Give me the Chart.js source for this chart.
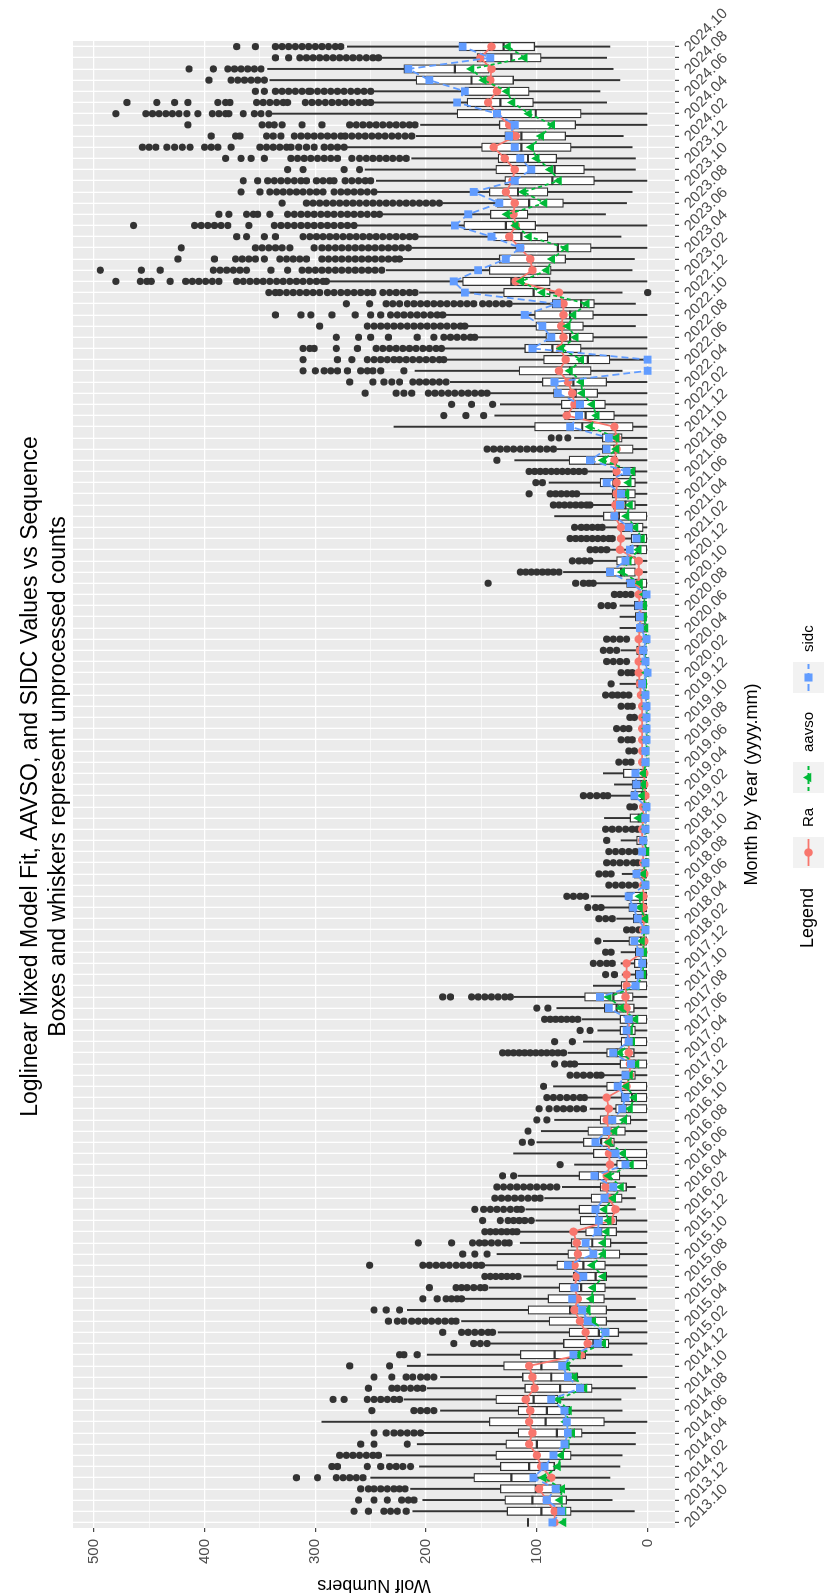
<!DOCTYPE html>
<html>
<head>
<meta charset="utf-8">
<script src="https://cdn.jsdelivr.net/npm/chart.js@4.4.1/dist/chart.umd.min.js"></script>
<style>
html, body { margin: 0; padding: 0; background: #ffffff; overflow: hidden; }
#marco { position: absolute; left: 0; top: 0; width: 1596px; height: 824px;
  transform-origin: 0 0; transform: translate(0px, 1596px) rotate(-90deg); }
</style>
</head>
<body>
<div id="marco"><canvas id="grafico" width="1596" height="824"></canvas></div>
<script>
// Meses (categorías del eje)
const meses = [
  '2013.10','2013.11','2013.12',
  '2014.01','2014.02','2014.03','2014.04','2014.05','2014.06','2014.07','2014.08','2014.09','2014.10','2014.11','2014.12',
  '2015.01','2015.02','2015.03','2015.04','2015.05','2015.06','2015.07','2015.08','2015.09','2015.10','2015.11','2015.12',
  '2016.01','2016.02','2016.03','2016.04','2016.05','2016.06','2016.07','2016.08','2016.09','2016.10','2016.11','2016.12',
  '2017.01','2017.02','2017.03','2017.04','2017.05','2017.06','2017.07','2017.08','2017.09','2017.10','2017.11','2017.12',
  '2018.01','2018.02','2018.03','2018.04','2018.05','2018.06','2018.07','2018.08','2018.09','2018.10','2018.11','2018.12',
  '2019.01','2019.02','2019.03','2019.04','2019.05','2019.06','2019.07','2019.08','2019.09','2019.10','2019.11','2019.12',
  '2020.01','2020.02','2020.03','2020.04','2020.05','2020.06','2020.07','2020.08','2020.09','2020.10','2020.11','2020.12',
  '2021.01','2021.02','2021.03','2021.04','2021.05','2021.06','2021.07','2021.08','2021.09','2021.10','2021.11','2021.12',
  '2022.01','2022.02','2022.03','2022.04','2022.05','2022.06','2022.07','2022.08','2022.09','2022.10','2022.11','2022.12',
  '2023.01','2023.02','2023.03','2023.04','2023.05','2023.06','2023.07','2023.08','2023.09','2023.10','2023.11','2023.12',
  '2024.01','2024.02','2024.03','2024.04','2024.05','2024.06','2024.07','2024.08','2024.09','2024.10'
];

// Etiquetas visibles del eje de meses (cada dos meses)
const etiquetasEje = [
  '2013.10','2013.12',
  '2014.02','2014.04','2014.06','2014.08','2014.10','2014.12',
  '2015.02','2015.04','2015.06','2015.08','2015.10','2015.12',
  '2016.02','2016.04','2016.06','2016.08','2016.10','2016.12',
  '2017.02','2017.04','2017.06','2017.08','2017.10','2017.12',
  '2018.02','2018.04','2018.06','2018.08','2018.10','2018.12',
  '2019.02','2019.04','2019.06','2019.08','2019.10','2019.12',
  '2020.02','2020.04','2020.06','2020.08','2020.10','2020.12',
  '2021.02','2021.04','2021.06','2021.08','2021.10','2021.12',
  '2022.02','2022.04','2022.06','2022.08','2022.10','2022.12',
  '2023.02','2023.04','2023.06','2023.08','2023.10','2023.12',
  '2024.02','2024.04','2024.06','2024.08','2024.10'
];

// Líneas de la escala Wolf (mayores con etiqueta, menores sin ella)
const marcasWolf = [0, 50, 100, 150, 200, 250, 300, 350, 400, 450, 500];
const ticksWolf = [0, 100, 200, 300, 400, 500];

// Cajas y bigotes (conteos sin procesar)
const bigoteInf = [
  108, 12, 32, 21, 34, 25, 23, 11, 11, 0,
  23, 24, 11, 0, 23, 14, 0, 0, 0, 0,
  11, 0, 0, 0, 0, 0, 0, 0, 11, 11,
  11, 0, 0, 0, 0, 0, 0, 0, 0, 0,
  0, 0, 0, 0, 0, 0, 0, 0, 0, 0,
  0, 0, 0, 0, 0, 0, 0, 0, 0, 0,
  0, 0, 0, 0, 0, 0, 0, 0, 0, 0,
  0, 0, 0, 0, 0, 0, 0, 0, 0, 0,
  0, 0, 0, 0, 0, 0, 0, 0, 0, 0,
  0, 0, 0, 0, 0, 0, 0, 0, 0, 0,
  0, 0, 0, 23, 0, 0, 0, 11, 0, 11,
  23, 0, 14, 12, 0, 24, 0, 38, 19, 14,
  0, 11, 11, 14, 22, 0, 0, 37, 43, 25,
  31, 37, 34
];
const cuartil1 = [
  108, 69, 73, 78, 101, 84, 69, 71, 59, 39,
  70, 81, 50, 63, 72, 56, 35, 26, 37, 37,
  39, 38, 37, 38, 25, 33, 28, 28, 30, 23,
  19, 25, 0, 0, 30, 20, 15, 0, 0, 0,
  11, 0, 12, 0, 11, 0, 12, 13, 0, 0,
  0, 0, 0, 0, 0, 0, 0, 0, 0, 0,
  0, 0, 0, 0, 0, 0, 0, 0, 0, 0,
  0, 0, 0, 0, 0, 0, 0, 0, 0, 0,
  0, 0, 0, 0, 0, 11, 11, 0, 0, 4,
  0, 11, 11, 11, 11, 28, 13, 23, 13, 30,
  38, 45, 37, 51, 34, 60, 49, 58, 49, 48,
  88, 88, 87, 74, 51, 90, 101, 108, 76, 90,
  48, 57, 82, 69, 74, 65, 60, 103, 107, 121,
  143, 96, 102
];
const mediana = [
  108, 96, 104, 101, 123, 107, 101, 100, 82, 92,
  91, 103, 79, 87, 96, 84, 49, 44, 60, 70,
  62, 60, 47, 58, 47, 50, 42, 42, 45, 36,
  30, 45, 18, 28, 42, 36, 32, 20, 14, 28,
  17, 12, 28, 13, 17, 14, 28, 31, 10, 4,
  4, 4, 6, 0, 5, 6, 6, 0, 4, 0,
  0, 3, 0, 8, 0, 5, 6, 9, 0, 0,
  0, 0, 0, 0, 0, 3, 0, 0, 3, 0,
  4, 4, 5, 2, 10, 24, 21, 9, 7, 14,
  26, 20, 21, 31, 21, 49, 30, 29, 59, 56,
  61, 65, 67, 70, 54, 86, 70, 78, 70, 60,
  103, 123, 105, 105, 81, 114, 128, 126, 107, 117,
  86, 84, 108, 114, 114, 121, 101, 133, 137, 159,
  174, 123, 130
];
const cuartil3 = [
  108, 127, 129, 133, 157, 133, 137, 128, 117, 143,
  117, 137, 111, 113, 130, 115, 76, 71, 89, 108,
  90, 80, 67, 82, 72, 69, 56, 61, 62, 51,
  43, 62, 28, 49, 58, 54, 43, 29, 24, 37,
  23, 25, 37, 24, 25, 25, 39, 57, 24, 11,
  12, 11, 17, 2, 13, 17, 19, 2, 12, 2,
  2, 10, 2, 16, 1, 15, 14, 22, 1, 1,
  1, 1, 1, 1, 2, 10, 1, 2, 10, 2,
  9, 11, 12, 5, 19, 37, 28, 16, 15, 25,
  40, 31, 32, 43, 31, 71, 41, 41, 102, 75,
  78, 85, 95, 116, 94, 111, 92, 101, 102, 86,
  130, 167, 143, 134, 119, 139, 166, 142, 136, 143,
  129, 137, 135, 150, 129, 134, 172, 163, 165, 209,
  220, 154, 170
];
const bigoteSup = [
  108, 212, 203, 214, 250, 206, 236, 208, 202, 294,
  187, 220, 199, 187, 217, 199, 142, 135, 168, 217,
  166, 143, 112, 147, 136, 115, 115, 101, 110, 93,
  77, 117, 66, 121, 100, 96, 84, 52, 54, 85,
  40, 63, 72, 58, 45, 59, 82, 121, 49, 23,
  24, 24, 40, 5, 28, 40, 51, 5, 23, 5,
  5, 24, 5, 39, 2, 33, 30, 40, 2, 2,
  2, 2, 2, 2, 4, 25, 2, 5, 24, 5,
  25, 25, 25, 10, 47, 76, 49, 35, 24, 38,
  84, 50, 63, 89, 54, 120, 82, 66, 229, 138,
  133, 143, 178, 210, 182, 184, 154, 163, 182, 122,
  206, 288, 236, 222, 213, 208, 262, 240, 185, 245,
  245, 255, 213, 271, 209, 205, 339, 248, 247, 341,
  343, 241, 271
];

// Valores atípicos por mes
const atipicos = [
  [], [265, 252, 238, 232, 226, 218], [261, 247, 235, 222, 216, 211],
  [259, 252, 247, 241, 235, 229, 224, 219], [317, 298, 281, 275, 269, 263, 257], [285, 280, 253, 241, 233, 227, 221, 214],
  [278, 272, 266, 260, 254, 248, 243], [259, 247, 217], [247, 236, 229, 223, 217, 211, 205], [],
  [249, 211, 205, 199, 193], [284, 274, 253, 247, 241, 235, 229, 224], [252, 231, 226, 220, 214, 208, 203],
  [247, 231, 218, 212, 205, 199, 193], [269, 233],
  [224, 220, 208], [175, 157, 151, 145], [185, 168, 162, 156, 150, 144, 140],
  [234, 226, 220, 213, 207, 201, 195, 189, 183, 177, 173], [247, 236, 224], [203, 190, 182, 177, 172, 168],
  [197, 173, 168, 163, 157, 151, 147], [147, 142, 137, 132, 127, 122, 117], [251, 203, 197, 191, 185, 179, 173, 167, 161, 155, 150],
  [167, 156, 145], [207, 177, 158, 152, 147, 141, 135, 129, 125], [147, 142, 137, 132, 127, 122, 118],
  [149, 133, 126, 121, 116, 111, 105], [156, 148, 142, 136, 130, 124, 118, 114], [138, 132, 126, 120, 114, 108, 102, 97],
  [136, 130, 124, 118, 112, 106, 100, 94, 88, 82], [131, 121], [79], [],
  [113, 105], [108], [100, 91], [98, 89, 82, 76, 70, 64, 58], [91, 85, 79, 73, 67, 61, 57],
  [94], [70, 64, 58, 52, 46, 42], [84, 75, 70, 66], [131, 126, 121, 116, 111, 106, 101, 96, 91, 86, 81, 76],
  [84, 68], [61, 52], [93, 88, 83, 78, 73, 68, 63], [100, 90], [185, 178, 159, 153, 147, 141, 135, 129, 124],
  [], [38, 30], [49, 43, 37, 32],
  [38, 33], [45], [19, 14, 8], [44, 38, 32], [54, 47, 42], [73, 67, 61, 56],
  [35, 29, 23, 17, 11], [44, 38, 33], [37, 31, 25, 19, 13, 9], [35, 29, 23, 17, 11], [37], [38, 32, 26, 20, 14, 9],
  [], [16, 12], [58, 52, 46, 40, 36], [], [], [26, 20, 15],
  [17, 12], [24, 18, 14], [28, 22, 17], [16, 12], [24, 18, 14], [38, 32, 27, 22, 17],
  [33], [24, 18, 14], [37, 31, 25, 19], [40, 34, 28], [37, 31, 25, 19], [],
  [], [42, 36, 31], [30, 25, 20, 15], [144, 65, 58, 53, 49], [115, 110, 105, 100, 95, 90, 85, 80], [68, 62, 57, 52],
  [52, 47, 42, 37], [70, 65, 60, 55, 50, 45, 40, 35, 32], [66, 60, 55, 50, 45, 41], [],
  [85, 80, 75, 70, 65, 60, 55, 52], [107, 88, 83, 78, 73, 68, 64], [101, 95],
  [107, 102, 97, 92, 87, 82, 77, 72, 67, 62, 57], [136], [145, 139, 133, 127, 121, 115, 109, 103, 97, 91, 85],
  [87, 80, 72], [],
  [184, 164, 148], [177, 159, 140], [255, 227, 220, 213, 198, 192, 186, 180, 174, 168, 162, 156, 150, 145],
  [269, 248, 238, 231, 224, 212, 206, 200, 194, 188, 182],
  [311, 300, 292, 286, 280, 271, 259, 253, 248, 241, 220],
  [311, 280, 267, 253, 247, 241, 235, 229, 224, 218, 212, 206, 200, 194, 188, 184],
  [311, 305, 301, 281, 262, 245, 239, 233, 227, 221, 215, 209, 203, 197, 191, 186],
  [281, 261, 250, 234, 208, 193, 184, 178, 172, 166, 160, 156],
  [296, 253, 247, 241, 235, 229, 223, 217, 211, 205, 199, 193, 187, 181, 175, 169, 165],
  [336, 313, 304, 285, 264, 250, 241, 232, 226, 220, 214, 208, 202, 196, 190, 185],
  [272, 251, 236, 230, 224, 217, 211, 205, 199, 193, 187, 181, 175, 169, 163, 157, 149, 143, 137, 131, 125],
  [342, 336, 332, 326, 320, 314, 308, 302, 296, 289, 283, 277, 271, 265, 259, 253, 248, 239, 233, 227, 221, 215, 210, 0],
  [480, 458, 452, 448, 431, 417, 411, 405, 399, 393, 387, 371, 365, 359, 353, 347, 341, 335, 329, 323, 317, 311, 305, 299, 293, 290],
  [494, 457, 440, 392, 386, 380, 374, 368, 362, 340, 325, 312, 306, 300, 294, 288, 282, 276, 270, 264, 258, 252, 246, 240],
  [424, 391, 372, 366, 360, 354, 346, 332, 326, 320, 314, 308, 294, 288, 282, 276, 270, 264, 258, 252, 246, 240, 234, 228, 224],
  [421, 354, 348, 342, 336, 330, 323, 301, 294, 288, 282, 276, 270, 264, 258, 252, 246, 240, 234, 228, 222, 216],
  [371, 362, 346, 336, 311, 305, 299, 293, 287, 281, 275, 269, 263, 257, 251, 245, 239, 233, 227, 221, 215, 210],
  [464, 409, 403, 397, 391, 385, 379, 360, 337, 331, 325, 319, 313, 307, 301, 295, 289, 283, 277, 271, 265],
  [387, 378, 362, 356, 352, 341, 325, 319, 313, 307, 301, 295, 289, 283, 277, 271, 265, 259, 253, 247, 242],
  [330, 308, 302, 296, 290, 284, 278, 272, 266, 260, 254, 248, 242, 236, 230, 224, 218, 212, 206, 200, 194, 188],
  [367, 350, 341, 335, 329, 323, 317, 311, 305, 299, 293, 283, 277, 271, 265, 259, 253, 247],
  [365, 352, 343, 337, 331, 325, 319, 313, 308, 299, 293, 287, 283, 273, 267, 261, 255, 250],
  [325, 311, 274, 260],
  [381, 367, 358, 346, 322, 316, 310, 304, 298, 292, 286, 280, 267, 260, 254, 248, 242, 236, 230, 224, 218],
  [456, 450, 444, 434, 427, 420, 413, 400, 394, 388, 376, 350, 344, 338, 332, 326, 322, 315, 308, 301, 292, 286, 280, 274],
  [394, 372, 368, 344, 338, 331, 319, 313, 307, 301, 295, 289, 283, 277, 273, 267, 261, 255, 249, 243, 237, 231, 225, 219, 213],
  [415, 348, 342, 337, 330, 312, 294, 269, 263, 257, 251, 245, 239, 233, 227, 221, 215, 210],
  [480, 453, 447, 441, 435, 429, 423, 416, 406, 393, 387, 381, 378, 365, 355, 349, 342],
  [470, 443, 427, 415, 388, 381, 377, 353, 347, 341, 335, 329, 325, 309, 303, 297, 291, 285, 279, 273, 267, 261, 255, 250],
  [354, 346, 336, 330, 324, 318, 312, 306, 304, 298, 292, 286, 280, 274, 268, 262, 256, 250],
  [396, 376, 370, 364, 358, 352, 346],
  [414, 392, 379, 373, 367, 361, 355, 349],
  [336, 324, 314, 308, 302, 296, 290, 284, 278, 272, 266, 260, 254, 248, 243],
  [371, 354, 336, 330, 324, 318, 312, 306, 300, 294, 288, 282, 277]
];

// Series: ajuste del modelo (Ra), AAVSO y SIDC
const ra = [
  84, 84, 91, 98, 87, 96, 100, 107, 104, 107,
  106, 110, 102, 104, 107, 60, 54, 56, 61, 66,
  63, 66, 64, 66, 63, 64, 67, 33, 29, 35,
  38, 37, 34, 35, 35, 35, 37, 35, 37, 19,
  16, 16, 17, 17, 17, 17, 19, 20, 19, 19,
  19, 4, 3, 4, 3, 4, 4, 4, 3, 4,
  4, 5, 5, 4, 4, 2, 3, 3, 5, 5,
  5, 5, 5, 5, 6, 7, 8, 8, 7, 8,
  7, 6, 7, 8, 8, 8, 8, 25, 24, 24,
  30, 29, 28, 28, 28, 30, 28, 28, 30, 73,
  66, 68, 72, 80, 74, 79, 76, 78, 76, 76,
  80, 119, 104, 106, 115, 125, 119, 121, 120, 128,
  122, 120, 129, 139, 119, 125, 136, 144, 136, 142,
  141, 151, 141
];
const aavso = [
  76, 76, 79, 77, 94, 81, 78, 73, 68, 74,
  71, 81, 57, 66, 73, 63, 40, 38, 49, 54,
  51, 49, 40, 50, 40, 40, 37, 35, 39, 31,
  24, 35, 15, 22, 35, 30, 21, 16, 12, 19,
  16, 10, 25, 14, 16, 11, 24, 35, 10, 4,
  4, 3, 5, 2, 2, 7, 7, 2, 4, 2,
  1, 3, 2, 8, 1, 5, 4, 4, 1, 1,
  1, 1, 1, 1, 2, 3, 1, 2, 3, 1,
  2, 3, 3, 3, 7, 23, 17, 8, 5, 11,
  19, 16, 19, 17, 14, 40, 28, 28, 52, 46,
  50, 59, 60, 70, 60, 78, 65, 72, 67, 55,
  95, 114, 91, 86, 74, 107, 119, 127, 93, 112,
  80, 88, 100, 105, 96, 86, 107, 122, 127, 148,
  159, 111, 126
];
const sidc = [
  86, 78, 91, 83, 103, 93, 85, 75, 72, 73,
  75, 87, 61, 72, 77, 67, 45, 38, 54, 59,
  68, 66, 58, 72, 49, 56, 45, 44, 47, 39,
  31, 48, 20, 29, 47, 37, 32, 23, 20, 27,
  20, 15, 31, 17, 19, 17, 35, 43, 11, 7,
  5, 7, 12, 2, 9, 13, 17, 2, 10, 2,
  5, 4, 2, 2, 1, 12, 10, 11, 2, 2,
  1, 1, 1, 1, 2, 5, 0, 2, 4, 1,
  7, 7, 8, 1, 15, 34, 20, 16, 10, 17,
  30, 25, 24, 37, 19, 52, 37, 35, 70, 62,
  61, 81, 84, 0, 0, 104, 87, 95, 111, 82,
  165, 175, 153, 128, 115, 141, 174, 162, 134, 157,
  120, 105, 115, 120, 125, 120, 136, 172, 165, 197,
  216, 142, 167
];

const titulo = ['Loglinear Mixed Model Fit, AAVSO, and SIDC Values vs Sequence',
                'Boxes and whiskers represent unprocessed counts'];

const FUENTE = '"Liberation Sans", Arial, sans-serif';
Chart.defaults.font.family = FUENTE;
Chart.defaults.color = '#4D4D4D';

const cajas = cuartil1.map((q, i) => [q, cuartil3[i]]);
const bigotes = bigoteInf.map((b, i) => [b, bigoteSup[i]]);
const puntosAtipicos = atipicos.flatMap((lista, i) => lista.map(v => ({x: meses[i], y: v})));

// fondo gris del panel
const fondoPanel = {
  id: 'fondoPanel',
  beforeDraw(chart) {
    const {ctx, chartArea: a} = chart;
    ctx.save();
    ctx.fillStyle = '#EBEBEB';
    ctx.fillRect(a.left, a.top, a.right - a.left, a.bottom - a.top);
    ctx.restore();
  }
};

function marca(ctx, forma, x, y, r, color) {
  ctx.fillStyle = color;
  ctx.beginPath();
  if (forma === 'circle') {
    ctx.arc(x, y, r, 0, Math.PI * 2);
  } else if (forma === 'triangle') {
    ctx.moveTo(x, y - r);
    ctx.lineTo(x + r * 0.866, y + r * 0.5);
    ctx.lineTo(x - r * 0.866, y + r * 0.5);
    ctx.closePath();
  } else {
    ctx.rect(x - r * 0.72, y - r * 0.72, r * 1.44, r * 1.44);
  }
  ctx.fill();
}

// título, etiquetas del eje de meses y leyenda
const textos = {
  id: 'textos',
  afterDraw(chart) {
    const {ctx, chartArea: a} = chart;
    const ejeX = chart.scales.x;
    ctx.save();
    ctx.fillStyle = '#000000';
    ctx.font = '23px ' + FUENTE;
    ctx.textAlign = 'center';
    ctx.textBaseline = 'middle';
    const cx = (a.left + a.right) / 2 + 8;
    ctx.fillText(titulo[0], cx, 31);
    ctx.fillText(titulo[1], cx, 59);

    ctx.font = '15px ' + FUENTE;
    ctx.fillStyle = '#4D4D4D';
    ctx.textAlign = 'left';
    meses.forEach((m, i) => {
      if (!etiquetasEje.includes(m)) return;
      const x = ejeX.getPixelForValue(i);
      ctx.save();
      ctx.translate(x - 3, a.bottom + 12);
      ctx.rotate(Math.PI / 4);
      ctx.fillText(m, 0, 0);
      ctx.restore();
    });

    // leyenda
    const top = 793, lado = 31, cy = top + lado / 2;
    ctx.fillStyle = '#000000';
    ctx.font = '18px ' + FUENTE;
    ctx.fillText('Legend', 648, cy);
    const claves = [
      {nombre: 'Ra', color: '#F8766D', dash: [], forma: 'circle', r: 4.2, x: 728},
      {nombre: 'aavso', color: '#00BA38', dash: [4, 3], forma: 'triangle', r: 5.5, x: 803},
      {nombre: 'sidc', color: '#619CFF', dash: [7, 4], forma: 'rect', r: 5.6, x: 903}
    ];
    claves.forEach(k => {
      ctx.fillStyle = '#F2F2F2';
      ctx.fillRect(k.x, top, lado, lado);
      ctx.strokeStyle = k.color;
      ctx.lineWidth = 1.8;
      ctx.setLineDash(k.dash);
      ctx.beginPath();
      ctx.moveTo(k.x + 2, cy);
      ctx.lineTo(k.x + lado - 2, cy);
      ctx.stroke();
      ctx.setLineDash([]);
      marca(ctx, k.forma, k.x + lado / 2, cy, k.r, k.color);
      ctx.fillStyle = '#000000';
      ctx.font = '15px ' + FUENTE;
      ctx.fillText(k.nombre, k.x + lado + 10, cy);
    });
    ctx.restore();
  }
};

new Chart(document.getElementById('grafico'), {
  type: 'bar',
  data: {
    labels: meses,
    datasets: [
      {type: 'line', label: 'sidc', data: sidc, borderColor: '#619CFF', backgroundColor: '#619CFF',
       borderWidth: 1.8, borderDash: [7, 4], pointStyle: 'rect', pointRadius: 5.6, pointBorderWidth: 0, order: 0},
      {type: 'line', label: 'aavso', data: aavso, borderColor: '#00BA38', backgroundColor: '#00BA38',
       borderWidth: 1.8, borderDash: [4, 3], pointStyle: 'triangle', pointRadius: 5.5, pointBorderWidth: 0, order: 1},
      {type: 'line', label: 'Ra', data: ra, borderColor: '#F8766D', backgroundColor: '#F8766D',
       borderWidth: 1.8, pointStyle: 'circle', pointRadius: 4.2, pointBorderWidth: 0, order: 2},
      {type: 'line', label: 'atipicos', data: puntosAtipicos, showLine: false, pointRadius: 3.6,
       pointBackgroundColor: '#333333', pointBorderWidth: 0, order: 3},
      {type: 'line', label: 'mediana', data: mediana, showLine: false, pointStyle: 'line', pointRadius: 4.3,
       pointBorderColor: '#333333', pointBorderWidth: 2.2, order: 4},
      {type: 'bar', label: 'caja', data: cajas, backgroundColor: '#FFFFFF', borderColor: '#333333',
       borderWidth: 1.3, borderSkipped: false, barThickness: 8.6, grouped: false, order: 5},
      {type: 'bar', label: 'bigote', data: bigotes, backgroundColor: '#333333', borderWidth: 0,
       barThickness: 1.3, grouped: false, order: 6}
    ]
  },
  options: {
    responsive: false,
    animation: false,
    devicePixelRatio: 1,
    events: [],
    layout: {padding: {top: 73, right: 41, left: 0, bottom: 0}},
    plugins: {legend: {display: false}, title: {display: false}, tooltip: {enabled: false}},
    scales: {
      x: {
        type: 'category',
        offset: true,
        grid: {offset: false, color: '#FFFFFF', lineWidth: 1.3, tickLength: 4, tickColor: '#333333', tickWidth: 1.1},
        border: {display: false},
        ticks: {display: false, autoSkip: false},
        title: {display: true, text: 'Month by Year (yyyy.mm)', color: '#000000', font: {size: 18},
                padding: {top: 0, bottom: 61}},
        afterFit(scale) { scale.height = 149; }
      },
      y: {
        type: 'linear',
        min: -24.7,
        max: 518.7,
        bounds: 'data',
        afterBuildTicks(scale) { scale.ticks = marcasWolf.map(v => ({value: v})); },
        grid: {
          color: '#FFFFFF',
          lineWidth: c => (c.tick && ticksWolf.includes(c.tick.value)) ? 1.3 : 0.6,
          tickColor: c => (c.tick && ticksWolf.includes(c.tick.value)) ? '#333333' : 'rgba(0,0,0,0)',
          tickLength: 4,
          tickWidth: 1.1
        },
        border: {display: false},
        ticks: {autoSkip: false, color: '#4D4D4D', font: {size: 15}, padding: 7,
                callback: v => ticksWolf.includes(v) ? String(v) : ''},
        title: {display: true, text: 'Wolf Numbers', color: '#000000', font: {size: 18}, padding: {top: 0, bottom: 0}},
        afterFit(scale) { scale.width = 68; }
      }
    }
  },
  plugins: [fondoPanel, textos]
});
</script>
</body>
</html>
